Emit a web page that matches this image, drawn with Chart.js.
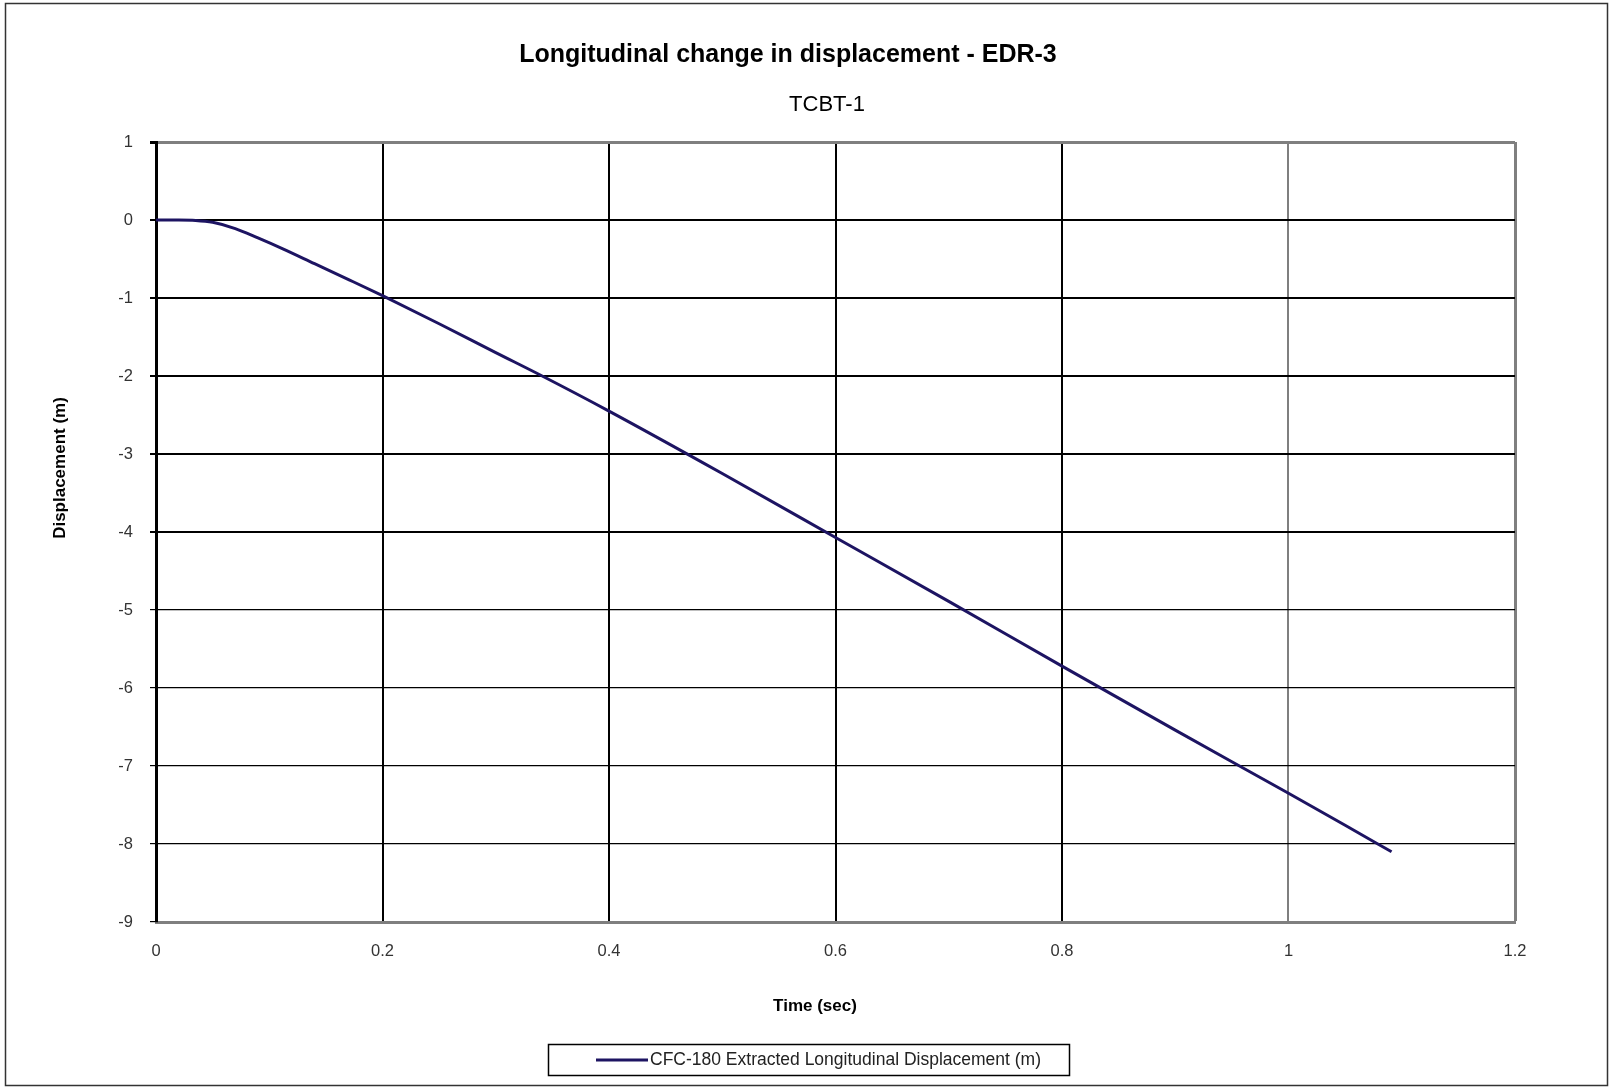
<!DOCTYPE html>
<html>
<head>
<meta charset="utf-8">
<title>Longitudinal change in displacement - EDR-3</title>
<script src="https://cdn.jsdelivr.net/npm/chart.js@4/dist/chart.umd.min.js"></script>
<style>
  html, body { margin: 0; padding: 0; background: #fff; }
  #wrap { width: 1612px; height: 1088px; }
</style>
</head>
<body>
<div id="wrap"><canvas id="chart" width="1612" height="1088"></canvas></div>
<script>
const chartTitle = 'Longitudinal change in displacement - EDR-3';
const chartSubtitle = 'TCBT-1';
const xAxisTitle = 'Time (sec)';
const yAxisTitle = 'Displacement (m)';
const seriesLabel = 'CFC-180 Extracted Longitudinal Displacement (m)';

// values
const timeSec = [0, 0.02, 0.035, 0.05, 0.07, 0.09, 0.112, 0.14, 0.171, 0.2, 0.25, 0.3, 0.341, 0.4, 0.5, 0.6, 0.7, 0.8, 0.9, 1.0, 1.05, 1.091];
const displacementM = [0, 0, -0.005, -0.03, -0.11, -0.23, -0.37, -0.56, -0.77, -0.97, -1.33, -1.70, -2.0, -2.45, -3.25, -4.07, -4.89, -5.72, -6.54, -7.35, -7.76, -8.1];

const lineColor = '#1d1462';

const points = timeSec.map((t, i) => ({x: t, y: displacementM[i]}));

// titles, axis titles, legend box and outer frame
const decorations = {
    id: 'decorations',
    afterDraw(chart) {
        const ctx = chart.ctx;
        ctx.save();
        ctx.fillStyle = '#000';
        ctx.textAlign = 'center';
        ctx.textBaseline = 'middle';
        ctx.font = 'bold 25px Arial, "Liberation Sans", sans-serif';
        ctx.fillText(chartTitle, 788, 55);
        ctx.font = '22px Arial, "Liberation Sans", sans-serif';
        ctx.fillText(chartSubtitle, 827, 105);

        ctx.font = 'bold 17px Arial, "Liberation Sans", sans-serif';
        ctx.fillText(xAxisTitle, 815, 1006);
        ctx.save();
        ctx.translate(60, 468);
        ctx.rotate(-Math.PI / 2);
        ctx.fillText(yAxisTitle, 0, 0);
        ctx.restore();

        // legend
        ctx.strokeStyle = '#000';
        ctx.lineWidth = 1.5;
        ctx.strokeRect(548.5, 1044.5, 521, 31);
        ctx.strokeStyle = lineColor;
        ctx.lineWidth = 3;
        ctx.beginPath();
        ctx.moveTo(596, 1060);
        ctx.lineTo(648, 1060);
        ctx.stroke();
        ctx.fillStyle = '#222';
        ctx.textAlign = 'left';
        ctx.font = '17.5px Arial, "Liberation Sans", sans-serif';
        ctx.fillText(chart.data.datasets[0].label, 650, 1060);

        // outer frame
        ctx.strokeStyle = '#333';
        ctx.lineWidth = 1.5;
        ctx.strokeRect(5.5, 3.5, 1602, 1082);
        ctx.restore();
    }
};

const whiteBg = {
    id: 'whiteBg',
    beforeDraw(chart) {
        const ctx = chart.ctx;
        ctx.save();
        ctx.fillStyle = '#fff';
        ctx.fillRect(0, 0, chart.width, chart.height);
        ctx.restore();
    }
};

const ctx = document.getElementById('chart').getContext('2d');
new Chart(ctx, {
    type: 'line',
    data: {
        datasets: [{
            label: seriesLabel,
            data: points,
            borderColor: lineColor,
            backgroundColor: lineColor,
            borderWidth: 3,
            pointRadius: 0,
            cubicInterpolationMode: 'monotone',
            fill: false
        }]
    },
    options: {
        responsive: false,
        animation: false,
        layout: { padding: { left: 0, top: 142, right: 97, bottom: 0 } },
        plugins: {
            legend: { display: false },
            title: { display: false },
            tooltip: { enabled: false }
        },
        scales: {
            x: {
                type: 'linear',
                min: 0,
                max: 1.2,
                afterFit(scale) { scale.height = 166; },
                ticks: {
                    stepSize: 0.2,
                    padding: 20,
                    color: '#333',
                    font: { family: 'Arial', size: 16.5 },
                    callback: v => +v.toFixed(1)
                },
                grid: {
                    drawTicks: false,
                    color: c => {
                        const v = Math.round(c.tick.value * 10) / 10;
                        if (v === 0) return 'rgba(0,0,0,0)';
                        if (v >= 1) return '#7f7f7f';
                        return '#000';
                    },
                    lineWidth: c => {
                        const v = Math.round(c.tick.value * 10) / 10;
                        return v >= 1.2 ? 3 : 2;
                    }
                },
                border: { color: '#7f7f7f', width: 3 }
            },
            y: {
                min: -9,
                max: 1,
                afterFit(scale) { scale.width = 156; },
                ticks: {
                    stepSize: 1,
                    padding: 17,
                    color: '#333',
                    font: { family: 'Arial', size: 16.5 }
                },
                grid: {
                    tickLength: 6,
                    color: c => {
                        if (c.tick.value === 1) return '#7f7f7f';
                        return '#000';
                    },
                    tickColor: '#000',
                    lineWidth: c => {
                        const v = c.tick.value;
                        if (v === 1) return 3;
                        return v >= -4 ? 2 : 1.2;
                    }
                },
                border: { color: '#000', width: 3 }
            }
        }
    },
    plugins: [whiteBg, decorations]
});
</script>
</body>
</html>
